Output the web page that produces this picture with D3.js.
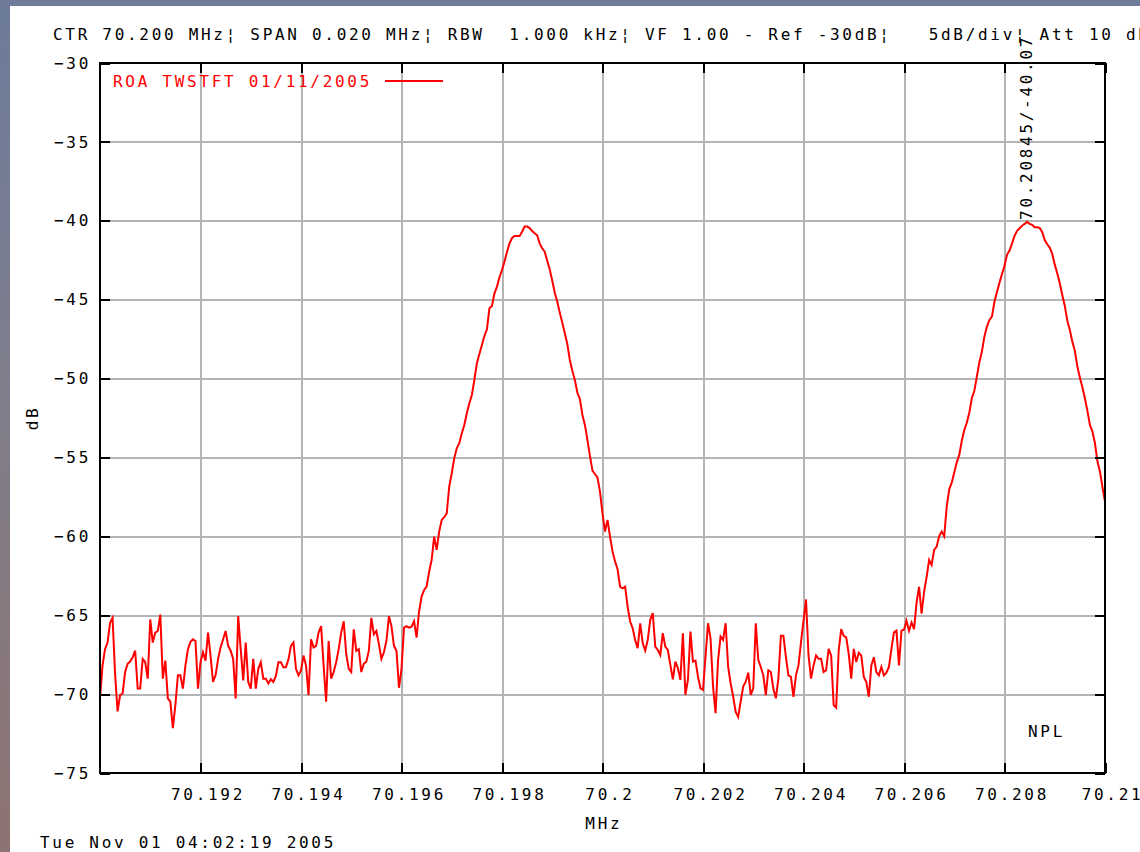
<!DOCTYPE html>
<html><head><meta charset="utf-8">
<script src="https://cdn.jsdelivr.net/npm/d3@7"></script>
<style>
html,body{margin:0;padding:0;background:#fff;overflow:hidden;}
svg{display:block;}
text{font-family:"DejaVu Sans Mono",monospace;font-size:16px;letter-spacing:2.7px;fill:#000;white-space:pre;}
</style></head><body>
<svg id="c" width="1140" height="852"></svg>
<script>
// ---- text ----
const headerText = "CTR 70.200 MHz\u00a6 SPAN 0.020 MHz\u00a6 RBW  1.000 kHz\u00a6 VF 1.00 - Ref -30dB\u00a6   5dB/div\u00a6 Att 10 dB";
const legendLabel = "ROA TWSTFT 01/11/2005";
const xAxisTitle = "MHz";
const yAxisTitle = "dB";
const timestamp = "Tue Nov 01 04:02:19 2005";
const siteLabel = "NPL";
const markerFreq = 70.20845;
const markerLevel = -40.07;

// ---- axes ----
const xDomain = [70.19, 70.21];
const yDomain = [-75, -30];
const xTickValues = [70.192, 70.194, 70.196, 70.198, 70.2, 70.202, 70.204, 70.206, 70.208, 70.21];
const xTickLabels = ["70.192", "70.194", "70.196", "70.198", "70.2", "70.202", "70.204", "70.206", "70.208", "70.21"];
const yTickValues = [-30, -35, -40, -45, -50, -55, -60, -65, -70, -75];

// ---- trace (401 sweep points) ----
const freqStartMHz = 70.19;
const freqStepMHz = 0.00005;
const levelDb = [
-70.27,-68.19,-67.15,-66.73,-65.48,-65.17,-68.71,-71.10,-70.06,-69.96,
-68.60,-68.08,-67.94,-67.67,-67.25,-69.65,-69.65,-67.77,-67.98,-69.02,
-65.27,-66.73,-66.10,-66.00,-64.96,-69.02,-67.88,-70.27,-70.48,-72.15,
-70.69,-68.81,-68.81,-69.65,-68.19,-67.15,-66.69,-66.52,-66.63,-69.65,
-67.98,-67.35,-67.88,-66.10,-67.56,-69.23,-68.81,-67.77,-67.04,-66.52,
-66.00,-66.94,-67.25,-67.77,-70.27,-65.06,-67.15,-69.13,-66.73,-69.23,
-69.65,-67.77,-69.65,-68.40,
-67.98,-69.02,-69.02,-69.33,-69.06,-69.23,-68.85,-67.98,-67.98,-68.29,
-68.29,-67.81,-66.94,-66.73,-68.40,-68.81,-68.50,-67.56,-68.19,-70.06,
-66.52,-67.04,-66.94,-66.10,-65.69,-68.19,-70.48,-66.63,-69.02,-68.60,
-67.98,-67.15,-66.10,-65.38,-67.46,-68.40,-68.60,-65.90,-67.25,-67.15,
-68.60,-68.08,-67.94,-67.25,-65.17,-66.21,-66.00,-66.83,-67.77,-67.35,
-66.63,-65.06,-65.69,-66.94,-67.25,-69.60,-68.40,-65.79,-65.69,-65.79,
-65.73,-65.38,-66.42,-64.75,
-63.82,-63.40,-63.19,-62.24,-61.50,-60.02,-60.86,-59.70,-58.96,-58.79,
-58.54,-56.85,-56.00,-55.05,-54.42,-54.10,-53.47,-52.94,-52.20,-51.57,
-51.04,-50.09,-49.03,-48.44,-47.87,-47.30,-46.88,-45.55,-45.40,-44.60,
-44.17,-43.58,-43.12,-42.59,-41.96,-41.43,-41.09,-40.96,-40.96,-40.96,
-40.69,-40.37,-40.37,-40.46,-40.65,-40.79,-40.92,-41.43,-41.74,-41.96,
-42.53,-43.08,-43.80,-44.56,-45.13,-45.82,-46.46,-47.13,-47.81,-48.82,
-49.50,-50.09,-50.89,-51.29,-52.31,-52.94,-53.89,-54.90,-55.84,-56.05,
-56.26,-57.17,-58.54,-59.70,-58.96,-60.02,-60.97,-61.60,-62.09,
-63.19,-63.29,-63.19,-64.45,-65.40,-65.82,-66.57,-67.09,-65.51,-66.77,
-67.24,-66.57,-65.30,-64.87,-66.99,-67.20,-67.52,-66.14,-66.99,-67.20,
-68.15,-69.06,-67.94,-68.36,-69.10,-66.14,-70.05,-69.10,-66.04,-67.94,
-67.88,-68.89,-69.63,-69.73,-67.62,-65.51,-66.46,-69.52,-71.21,-67.83,
-66.35,-66.57,-65.51,-68.26,-69.31,-70.16,-71.11,-71.45,-70.47,-69.52,
-69.21,-68.64,-70.05,-69.63,-65.51,-67.83,
-68.28,-68.81,-70.06,-68.49,-68.60,-69.64,-70.27,-69.02,-66.30,-66.30,
-67.66,-68.81,-68.91,-70.17,-68.81,-68.18,-66.72,-65.36,-64.00,-67.55,
-69.02,-68.18,-67.55,-67.76,-67.76,-68.60,-68.49,-67.13,-67.55,-70.69,
-70.86,-67.24,-65.88,-66.30,-66.40,-67.45,-69.02,-67.13,-67.97,-67.38,
-67.55,-68.91,-69.23,-70.17,-68.18,-67.66,-68.60,-68.81,-68.28,-68.81,
-68.64,-68.28,-67.13,-66.09,-65.98,-68.18,-65.98,-65.92,-65.36,-65.98,
-65.46,-65.88,
-64.20,-63.20,-64.90,-63.50,-62.59,-61.50,-61.81,-60.86,-60.65,-59.98,
-59.70,-60.00,-58.12,-57.02,-56.60,-55.96,-55.31,-54.84,-53.94,-53.26,
-52.80,-52.16,-51.25,-50.77,-49.88,-48.97,-48.29,-47.34,-46.71,-46.29,
-46.08,-45.13,-44.51,-43.92,-43.37,-42.86,-42.16,-41.89,-41.43,-40.96,
-40.63,-40.47,-40.31,-40.20,-40.07,-40.20,-40.26,-40.41,-40.41,-40.45,
-40.71,-41.22,-41.49,-41.70,-42.10,-42.78,-43.33,-43.96,-44.70,-45.40,
-46.33,-46.92,-47.66,-48.23,-49.24,-49.94,-50.55,-51.25,-52.05,-52.94,
-53.36,-54.10,-55.26,-55.90,-56.89,-57.80
];

// ---- layout ----
const W = 1140, H = 852;
const plot = {left: 100, right: 1105, top: 63, bottom: 773};
const svg = d3.select("#c");

// outer border (screenshot frame)
const defs = svg.append("defs");
const g1 = defs.append("linearGradient").attr("id", "edge").attr("x1", 0).attr("y1", 0).attr("x2", 0).attr("y2", 1);
g1.append("stop").attr("offset", "0%").attr("stop-color", "#6c7b9b");
g1.append("stop").attr("offset", "45%").attr("stop-color", "#7f7e8c");
g1.append("stop").attr("offset", "100%").attr("stop-color", "#8d7371");
svg.append("rect").attr("x", 0).attr("y", 0).attr("width", W).attr("height", H).attr("fill", "url(#edge)");
svg.append("rect").attr("x", 0).attr("y", 0).attr("width", W).attr("height", 6).attr("fill", "#6e7b99");
svg.append("rect").attr("x", 10).attr("y", 6).attr("width", W - 10).attr("height", H - 6).attr("fill", "#fff");
defs.append("clipPath").attr("id", "pc").append("rect")
  .attr("x", plot.left).attr("y", plot.top).attr("width", plot.right - plot.left).attr("height", plot.bottom - plot.top);

const x = d3.scaleLinear().domain(xDomain).range([plot.left, plot.right]);
const y = d3.scaleLinear().domain(yDomain).range([plot.bottom, plot.top]);
const pw = plot.right - plot.left, ph = plot.bottom - plot.top;

// grid
const gridX = svg.append("g").attr("transform", `translate(0,${plot.bottom})`)
  .call(d3.axisBottom(x).tickValues(xTickValues.filter(v => v < xDomain[1])).tickSize(-ph).tickFormat(""));
const gridY = svg.append("g").attr("transform", `translate(${plot.left},0)`)
  .call(d3.axisLeft(y).tickValues(yTickValues.filter(v => v > yDomain[0] && v < yDomain[1])).tickSize(-pw).tickFormat(""));
[gridX, gridY].forEach(g => {
  g.select(".domain").remove();
  g.selectAll("line").attr("stroke", "#b4b4b4").attr("stroke-width", 2).attr("shape-rendering", "crispEdges");
});

// trace
const line = d3.line()
  .x((d, i) => x(freqStartMHz + i * freqStepMHz))
  .y(d => y(d));
svg.append("path").datum(levelDb)
  .attr("clip-path", "url(#pc)")
  .attr("d", line).attr("fill", "none").attr("stroke", "#ff0000").attr("stroke-width", 2)
  .attr("stroke-linejoin", "miter");

// axes with inward ticks
const axB = svg.append("g").attr("transform", `translate(0,${plot.bottom})`)
  .call(d3.axisBottom(x).tickValues(xTickValues).tickFormat((d, i) => xTickLabels[i]).tickSize(-10).tickPadding(16));
const axT = svg.append("g").attr("transform", `translate(0,${plot.top})`)
  .call(d3.axisTop(x).tickValues(xTickValues).tickFormat("").tickSize(-10));
const axL = svg.append("g").attr("transform", `translate(${plot.left},0)`)
  .call(d3.axisLeft(y).tickValues(yTickValues).tickSize(-10).tickPadding(9));
const axR = svg.append("g").attr("transform", `translate(${plot.right},0)`)
  .call(d3.axisRight(y).tickValues(yTickValues).tickFormat("").tickSize(-10));
[axB, axT, axL, axR].forEach(g => {
  g.select(".domain").remove();
  g.selectAll("line").attr("stroke", "#000").attr("stroke-width", 2).attr("shape-rendering", "crispEdges");
  g.selectAll("text").attr("font-family", null).attr("font-size", null).attr("fill", "#000");
});
axB.selectAll("text").attr("x", 7);

// frame
svg.append("rect").attr("x", plot.left).attr("y", plot.top).attr("width", pw).attr("height", ph)
  .attr("fill", "none").attr("stroke", "#000").attr("stroke-width", 2).attr("shape-rendering", "crispEdges");

// texts
svg.append("text").attr("x", 53).attr("y", 40).attr("xml:space", "preserve").text(headerText);
svg.append("text").attr("x", (plot.left + plot.right) / 2 + 1.3).attr("y", 829).attr("text-anchor", "middle").text(xAxisTitle);
svg.append("text").attr("transform", `translate(38,${(plot.top + plot.bottom) / 2}) rotate(-90)`).attr("text-anchor", "middle").text(yAxisTitle);
svg.append("text").attr("x", 40).attr("y", 848).text(timestamp);
svg.append("text").attr("x", 1028).attr("y", 737).text(siteLabel);

// legend
svg.append("text").attr("x", 113).attr("y", 87).style("fill", "#ff0000").text(legendLabel);
svg.append("line").attr("x1", 385).attr("x2", 443).attr("y1", 81).attr("y2", 81)
  .attr("stroke", "#ff0000").attr("stroke-width", 2);

// peak marker label
svg.append("text")
  .attr("transform", `translate(${x(markerFreq) + 5},${y(markerLevel) - 2}) rotate(-90)`)
  .text(`${markerFreq}/${markerLevel}`);
</script>
</body></html>
